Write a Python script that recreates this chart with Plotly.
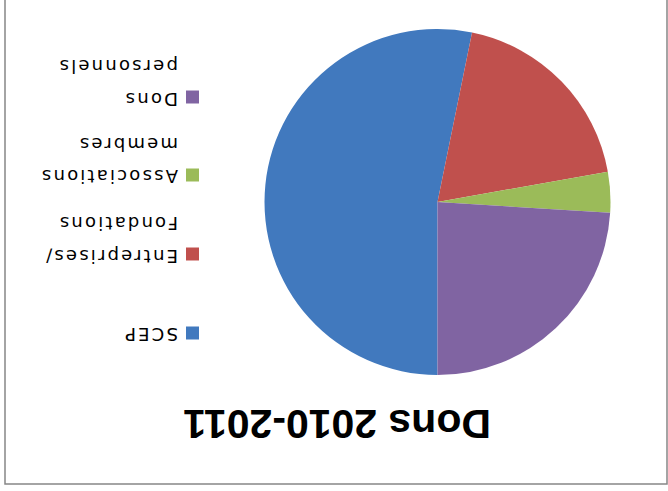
import plotly.graph_objects as go

W, H = 668, 491

categories = ["SCEP", "Entreprises/ Fondations", "Associations membres", "Dons personnels"]
legend_lines = [["SCEP"], ["Entreprises/", "Fondations"], ["Associations", "membres"], ["Dons", "personnels"]]
values = [53.2, 19.0, 3.8, 24.0]
colors = ["#4179BE", "#C0504D", "#9BBB59", "#8064A2"]
title_text = "Dons 2010-2011"

def px(x):
    return x / W

def py(y):
    return 1 - y / H

fig = go.Figure()
fig.add_trace(go.Pie(
    labels=categories,
    values=values,
    sort=False,
    direction="clockwise",
    rotation=180,
    textinfo="none",
    hoverinfo="label+percent",
    marker=dict(colors=colors, line=dict(width=0)),
    domain=dict(x=[px(264), px(611)], y=[py(375), py(29)]),
    showlegend=False,
))

annotations = []
shapes = []
# legend (chart is shown rotated by 180 degrees)
marker_y = [333, 254, 175, 97]
line_gap = 32
for i, lines in enumerate(legend_lines):
    yc = marker_y[i]
    shapes.append(dict(type="rect", xref="paper", yref="paper",
                       x0=px(186), x1=px(199), y0=py(yc + 6.5), y1=py(yc - 6.5),
                       fillcolor=colors[i], line=dict(width=0)))
    for j, t in enumerate(lines):
        annotations.append(dict(
            text='<span style="letter-spacing:2.2px">' + t + '</span>',
            x=px(180), y=py(yc - j * line_gap + 2),
            xref="paper", yref="paper", xanchor="right", yanchor="middle",
            textangle=180, showarrow=False,
            font=dict(family="DejaVu Sans", size=18, color="#000000"),
        ))

annotations.append(dict(
    text="<b>" + title_text + "</b>",
    x=px(337.5), y=py(424), xref="paper", yref="paper",
    xanchor="center", yanchor="middle", textangle=180, showarrow=False,
    font=dict(family="Liberation Sans", size=41, color="#000000"),
))

shapes.append(dict(type="rect", xref="paper", yref="paper",
                   x0=px(5), x1=px(667), y0=py(484), y1=py(-10),
                   line=dict(color="#878787", width=1.5), fillcolor="rgba(0,0,0,0)"))

fig.update_layout(
    width=W, height=H,
    margin=dict(l=0, r=0, t=0, b=0),
    paper_bgcolor="white", plot_bgcolor="white",
    annotations=annotations, shapes=shapes,
)

fig.write_html("out.html", config={"displayModeBar": False},
               post_script="document.body.style.margin='0';document.body.style.overflow='hidden';")
